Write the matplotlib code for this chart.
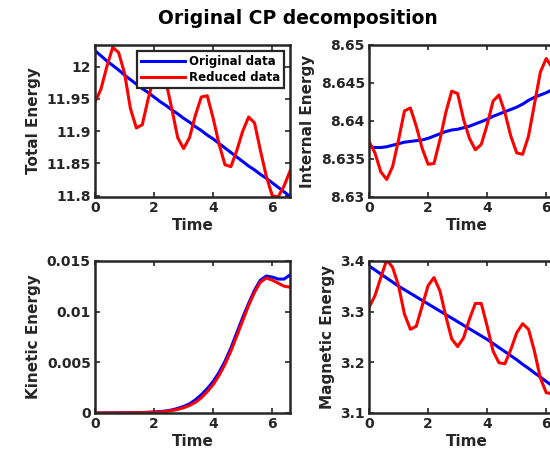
import numpy as np
import matplotlib
matplotlib.use('Agg')
import matplotlib.pyplot as plt
from matplotlib.ticker import FuncFormatter

# time grid (0 : 0.2 : 6.6)
t = np.round(np.arange(34) * 0.2, 1)

total_orig = [12.025, 12.017, 12.009, 12.002, 11.995, 11.987, 11.980, 11.973,
              11.966, 11.960, 11.953, 11.946, 11.940, 11.933, 11.927, 11.920,
              11.914, 11.907, 11.901, 11.894, 11.888, 11.881, 11.874, 11.867,
              11.860, 11.853, 11.846, 11.840, 11.833, 11.827, 11.820, 11.813,
              11.806, 11.799]
total_red = [11.945, 11.965, 12.000, 12.030, 12.022, 11.990, 11.935, 11.905,
             11.910, 11.950, 11.985, 11.998, 11.977, 11.935, 11.890, 11.873,
             11.890, 11.925, 11.953, 11.955, 11.920, 11.880, 11.848, 11.845,
             11.870, 11.900, 11.922, 11.913, 11.870, 11.830, 11.800, 11.798,
             11.815, 11.838]

internal_orig = [8.6366, 8.6365, 8.6365, 8.6366, 8.6368, 8.6370, 8.6372, 8.6373,
                 8.6374, 8.6375, 8.6377, 8.6380, 8.6383, 8.6386, 8.6388, 8.6389,
                 8.6391, 8.6393, 8.6396, 8.6399, 8.6402, 8.6406, 8.6409, 8.6412,
                 8.6415, 8.6418, 8.6422, 8.6427, 8.6431, 8.6434, 8.6437, 8.6441,
                 8.6444, 8.6448]
internal_red = [8.6373, 8.6358, 8.6333, 8.6323, 8.6340, 8.6375, 8.6413, 8.6417,
                8.6393, 8.6364, 8.6343, 8.6344, 8.6375, 8.6411, 8.6439, 8.6436,
                8.6402, 8.6377, 8.6362, 8.6369, 8.6395, 8.6426, 8.6434, 8.6411,
                8.6380, 8.6358, 8.6356, 8.6380, 8.6422, 8.6464, 8.6482, 8.6470,
                8.6455, 8.6420]

kinetic_orig = [0.0, 0.0, 0.00001, 0.00001, 0.00002, 0.00002, 0.00003, 0.00004,
                0.00005, 0.00007, 0.0001, 0.00014, 0.0002, 0.0003, 0.00045, 0.00065,
                0.0009, 0.0013, 0.0018, 0.0024, 0.0031, 0.0040, 0.0051, 0.0064,
                0.0079, 0.0094, 0.0108, 0.0121, 0.0131, 0.0135, 0.0134, 0.0132,
                0.0132, 0.0136]
kinetic_red = [0.0, 0.0, 0.00001, 0.00001, 0.00001, 0.00002, 0.00002, 0.00003,
               0.00004, 0.00005, 0.00007, 0.0001, 0.00015, 0.00024, 0.00036, 0.00052,
               0.00074, 0.00105, 0.0015, 0.0021, 0.0028, 0.0037, 0.0048, 0.0061,
               0.0076, 0.0091, 0.0106, 0.0119, 0.0129, 0.0133, 0.0131, 0.0128,
               0.0125, 0.0124]

magnetic_orig = [3.390, 3.382, 3.374, 3.366, 3.358, 3.350, 3.343, 3.336,
                 3.329, 3.322, 3.315, 3.308, 3.301, 3.294, 3.287, 3.280,
                 3.273, 3.266, 3.259, 3.252, 3.245, 3.237, 3.229, 3.221,
                 3.213, 3.205, 3.196, 3.188, 3.179, 3.171, 3.162, 3.154,
                 3.145, 3.137]
magnetic_red = [3.308, 3.331, 3.367, 3.402, 3.387, 3.351, 3.295, 3.265,
                3.271, 3.311, 3.351, 3.367, 3.341, 3.291, 3.246, 3.231,
                3.248, 3.285, 3.316, 3.316, 3.271, 3.222, 3.199, 3.197,
                3.225, 3.258, 3.276, 3.265, 3.222, 3.169, 3.140, 3.138,
                3.157, 3.184]

panels = [
    ('Total Energy', total_orig, total_red, (11.798, 12.034),
     [11.8, 11.85, 11.9, 11.95, 12.0]),
    ('Internal Energy', internal_orig, internal_red, (8.63, 8.65),
     [8.63, 8.635, 8.64, 8.645, 8.65]),
    ('Kinetic Energy', kinetic_orig, kinetic_red, (0, 0.015),
     [0, 0.005, 0.01, 0.015]),
    ('Magnetic Energy', magnetic_orig, magnetic_red, (3.1, 3.4),
     [3.1, 3.2, 3.3, 3.4]),
]

dark = '#262626'
plt.rcParams['font.family'] = 'DejaVu Sans'
plt.rcParams['font.weight'] = 'bold'

fig = plt.figure(figsize=(5.5, 4.57), dpi=100)

# axes rectangles in figure fractions; right column runs past the edge
w, h = 0.3545, 0.333
rects = [(0.1727, 0.569, w, h), (0.6709, 0.569, w, h),
         (0.1727, 0.0963, w, h), (0.6709, 0.0963, w, h)]

for (name, orig, red, ylim, yt), r in zip(panels, rects):
    ax = fig.add_axes(r)
    ax.plot(t, orig, color=(0, 0, 1), lw=2.2, label='Original data')
    ax.plot(t, red, color=(1, 0, 0), lw=2.2, label='Reduced data')
    ax.set_xlim(0, 6.6)
    ax.set_ylim(*ylim)
    ax.set_xticks([0, 2, 4, 6])
    ax.set_yticks(yt)
    ax.yaxis.set_major_formatter(FuncFormatter(lambda v, p: '%g' % round(v, 6)))
    ax.tick_params(direction='in', top=True, right=True, length=3.5,
                   width=1.2, color=dark, labelcolor=dark, labelsize=10, pad=3)
    for lab in ax.get_xticklabels() + ax.get_yticklabels():
        lab.set_fontweight('bold')
    for s in ax.spines.values():
        s.set_color(dark)
        s.set_linewidth(1.8)
    ax.set_xlabel('Time', fontsize=11, fontweight='bold', color=dark, labelpad=2)
    ax.set_ylabel(name, fontsize=11, fontweight='bold', color=dark, labelpad=4)
    if name == 'Total Energy':
        leg = ax.legend(loc='upper right', handlelength=3.7,
                        borderpad=0.35, labelspacing=0.3, handletextpad=0.35,
                        fancybox=False, framealpha=1, borderaxespad=0.5,
                        prop={'weight': 'bold', 'size': 8.5})
        leg.get_frame().set_edgecolor(dark)
        leg.get_frame().set_linewidth(1.6)

fig.text(0.542, 0.96, 'Original CP decomposition', ha='center', va='center',
         fontsize=13.5, fontweight='bold', color='black')

fig.savefig('out.png', dpi=100)
